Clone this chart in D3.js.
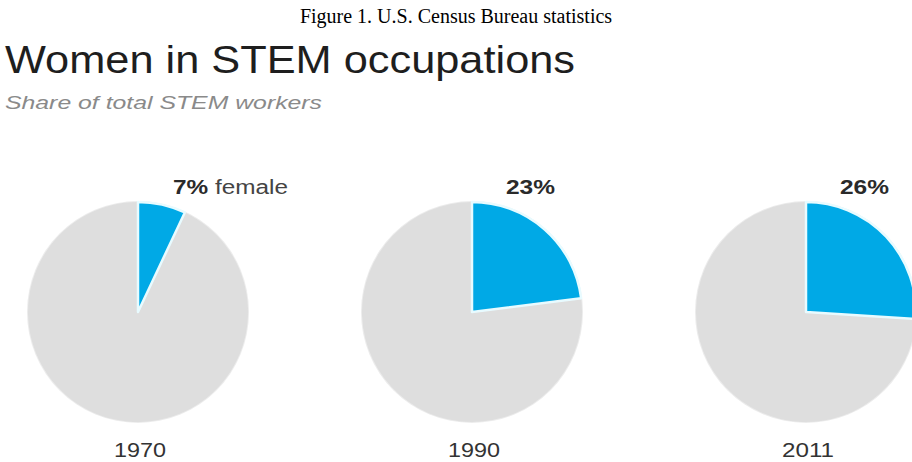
<html>
<meta charset="utf-8" />
<head>
<title>Women in STEM occupations</title>
<script src="https://cdn.jsdelivr.net/npm/d3@7/dist/d3.min.js"></script>
<style>
	body { margin: 0; background: #fff; }
	svg { display: block; }
</style>
</head>
<body>
<svg id="chart" width="912" height="462"></svg>
<script>
// data
let years = ['1970', '1990', '2011'];
let femaleShare = [7, 23, 26];
let shareLabels = ['7%', '23%', '26%'];

let svg = d3.select('#chart');
let sans = '"Liberation Sans", Arial, sans-serif';

svg.append('text')
	.attr('x', 456).attr('y', 23)
	.attr('text-anchor', 'middle')
	.style('font-family', '"Liberation Serif", "Times New Roman", serif')
	.style('font-size', '20px')
	.attr('fill', '#000')
	.text('Figure 1. U.S. Census Bureau statistics');

svg.append('text')
	.attr('x', 5).attr('y', 73)
	.style('font-family', sans)
	.style('font-size', '39px')
	.attr('fill', '#1e1e1e')
	.attr('textLength', 570)
	.attr('lengthAdjust', 'spacingAndGlyphs')
	.text('Women in STEM occupations');

svg.append('text')
	.attr('x', 5).attr('y', 109)
	.style('font-family', sans)
	.style('font-size', '19px')
	.style('font-style', 'italic')
	.attr('fill', '#8a8a8a')
	.attr('textLength', 317)
	.attr('lengthAdjust', 'spacingAndGlyphs')
	.text('Share of total STEM workers');

// pie positions
let xScale = d3.scalePoint().domain(years).range([138, 806]);
let cy = 312;
let radius = 110;

let pie = d3.pie().sort(null).value((d) => d);
let arc = d3.arc().innerRadius(0).outerRadius(radius);
let colors = ['#00a9e6', '#dedede'];
let labelWidths = [115, 49, 49];

years.forEach((yr, i) => {
	let g = svg.append('g')
		.attr('transform', 'translate(' + xScale(yr) + ',' + cy + ')');

	// light rim
	g.append('circle').attr('r', radius + 1).attr('fill', '#ececec');

	let slices = pie([femaleShare[i], 100 - femaleShare[i]]);
	g.selectAll('path.s')
		.data(slices.slice().reverse())
		.enter().append('path')
		.attr('class', 's')
		.attr('d', arc)
		.attr('fill', (d) => colors[d.index])
		.attr('stroke', (d) => d.index == 0 ? '#e8fbff' : 'none')
		.attr('stroke-width', 2.5)
		.attr('stroke-linejoin', 'round');

	// percentage label
	let lab = svg.append('text')
		.attr('x', xScale(yr) + (i == 0 ? 35 : 34))
		.attr('y', 194)
		.style('font-family', sans)
		.style('font-size', '20px')
		.attr('fill', '#2a2a2a')
		.attr('textLength', labelWidths[i])
		.attr('lengthAdjust', 'spacingAndGlyphs');
	lab.append('tspan').style('font-weight', 'bold').text(shareLabels[i]);
	if (i == 0) lab.append('tspan').attr('fill', '#444').text(' female');

	svg.append('text')
		.attr('x', xScale(yr) + 2)
		.attr('y', 457)
		.attr('text-anchor', 'middle')
		.style('font-family', sans)
		.style('font-size', '20px')
		.attr('fill', '#333')
		.attr('textLength', 52)
		.attr('lengthAdjust', 'spacingAndGlyphs')
		.text(yr);
});
</script>
</body>
</html>
